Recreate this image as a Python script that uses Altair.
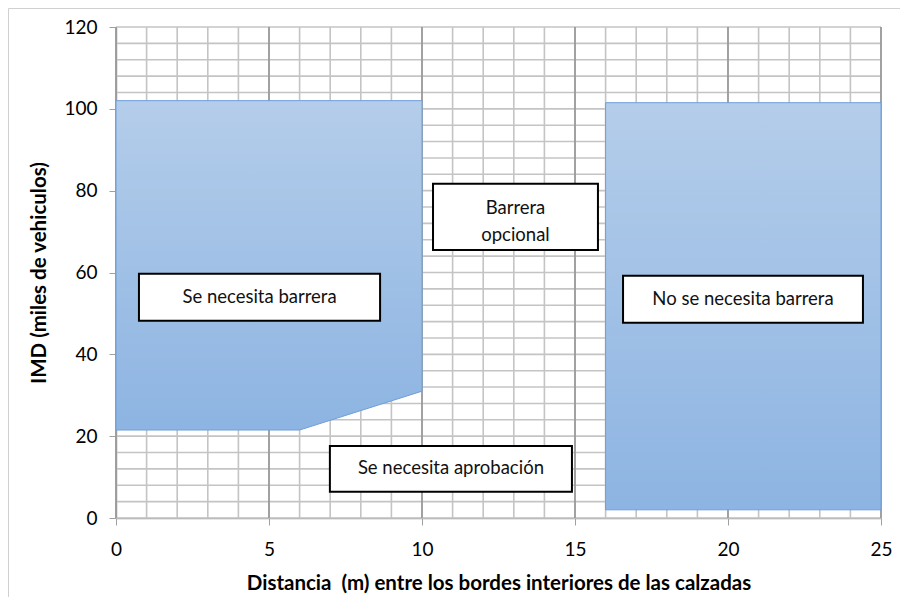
import altair as alt
import pandas as pd

# ---------------- data ----------------
# region where a barrier is required (top edge flat, bottom edge with a kink)
left_x = [0, 6, 10]
left_top = [102, 102, 102]
left_bottom = [21.5, 21.5, 31]

# region where no barrier is needed
right_x1 = [16]
right_x2 = [25]
right_y1 = [2]
right_y2 = [101.5]

# annotation boxes
labels = [["Se necesita barrera"], ["Barrera", "opcional"], ["No se necesita barrera"], ["Se necesita aprobación"]]
box_x1 = [0.75, 10.36, 16.57, 6.99]
box_x2 = [8.63, 15.75, 24.41, 14.9]
box_y1 = [48.2, 65.5, 47.7, 6.4]
box_y2 = [59.7, 81.7, 59.2, 17.6]
text_y = [54.0, 75.8, 53.5, 12.2]

x_ticks = [0, 5, 10, 15, 20, 25]
y_ticks = [0, 20, 40, 60, 80, 100, 120]
x_minor = list(range(0, 26))
y_minor = list(range(0, 121, 4))

FONT = "Lato"

xs = alt.Scale(domain=[0, 25], nice=False, zero=False)
ys = alt.Scale(domain=[0, 120], nice=False, zero=False)

gradient = {
    "gradient": "linear",
    "x1": 0, "y1": 0, "x2": 0, "y2": 1,
    "stops": [
        {"offset": 0, "color": "#B4CDEA"},
        {"offset": 1, "color": "#8DB4E2"},
    ],
}

# ---------------- layers ----------------
frame = alt.Chart(pd.DataFrame({"a": [0]})).mark_rect(
    filled=False, stroke="#D0D0D0", strokeWidth=1
).encode(
    x=alt.value(-107.5), x2=alt.value(800), y=alt.value(-18.5), y2=alt.value(620)
)

xgrid = alt.Chart(pd.DataFrame({"v": x_minor})).mark_rule(
    color="#C4C4C4", strokeWidth=1.6
).encode(
    x=alt.X("v:Q", scale=xs, axis=alt.Axis(
        values=x_ticks,
        title="Distancia \u00a0(m) entre los bordes interiores de las calzadas",
        grid=False, tickSize=7, tickColor="#A0A0A0", domainColor="#A0A0A0", domainWidth=1.5,
        labelPadding=15, titlePadding=14)),
)

xmajor = alt.Chart(pd.DataFrame({"v": x_ticks})).mark_rule(
    color="#8E8E8E", strokeWidth=1.4
).encode(x=alt.X("v:Q", scale=xs))

ygrid = alt.Chart(pd.DataFrame({"v": y_minor})).mark_rule(
    color="#C4C4C4", strokeWidth=1.6
).encode(
    y=alt.Y("v:Q", scale=ys, axis=alt.Axis(
        values=y_ticks, title="IMD (miles de vehiculos)",
        grid=False, tickSize=7, tickColor="#A0A0A0", domainColor="#A0A0A0", domainWidth=1.5,
        labelPadding=12, titlePadding=14)),
)

left_df = pd.DataFrame({"x": left_x, "top": left_top, "bottom": left_bottom})
left_area = alt.Chart(left_df).mark_area(
    fill=gradient, stroke="#6E9FD8", strokeWidth=1, opacity=1
).encode(
    x=alt.X("x:Q", scale=xs),
    y=alt.Y("top:Q", scale=ys),
    y2="bottom:Q",
)

right_df = pd.DataFrame({"x1": right_x1, "x2": right_x2, "y1": right_y1, "y2": right_y2})
right_rect = alt.Chart(right_df).mark_rect(
    fill=gradient, stroke="#6E9FD8", strokeWidth=1
).encode(
    x=alt.X("x1:Q", scale=xs), x2="x2:Q",
    y=alt.Y("y2:Q", scale=ys), y2="y1:Q",
)

box_df = pd.DataFrame({
    "label": labels, "x1": box_x1, "x2": box_x2, "y1": box_y1, "y2": box_y2,
    "tx": [(a + b) / 2 for a, b in zip(box_x1, box_x2)], "ty": text_y,
})
boxes = alt.Chart(box_df).mark_rect(
    fill="white", stroke="black", strokeWidth=2
).encode(
    x=alt.X("x1:Q", scale=xs), x2="x2:Q",
    y=alt.Y("y1:Q", scale=ys), y2="y2:Q",
)
texts = alt.Chart(box_df).mark_text(
    font=FONT, fontSize=18.5, color="#111111", align="center", baseline="middle", lineHeight=27
).encode(
    x=alt.X("tx:Q", scale=xs),
    y=alt.Y("ty:Q", scale=ys),
    text="label",
)

chart = alt.layer(
    frame, xgrid, ygrid, xmajor, left_area, right_rect, boxes, texts
).properties(
    width=765, height=491,
    autosize=alt.AutoSizeParams(type="none"),
    padding={"left": 108, "top": 19, "right": 19, "bottom": 79},
    background="white",
).configure_view(
    stroke=None
).configure_axis(
    labelFont=FONT, labelFontSize=19, labelColor="#000000",
    titleFont=FONT, titleFontSize=20.5, titleFontWeight="bold", titleColor="#000000",
    labelFlush=False,
)

chart.save("out.html", embed_options={"renderer": "svg", "actions": False})
